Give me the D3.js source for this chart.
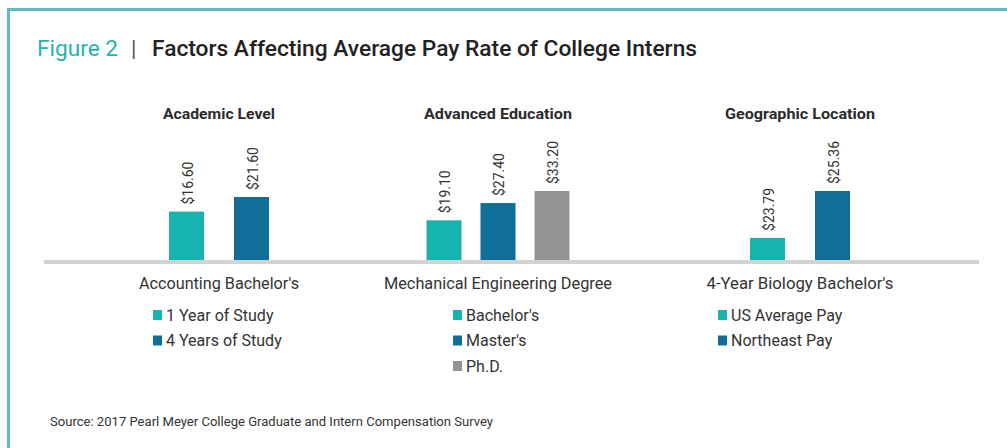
<!DOCTYPE html>
<html><head><meta charset="utf-8">
<script src="https://cdn.jsdelivr.net/npm/d3@7"></script>
<style>
html,body{margin:0;padding:0;background:#fff;}
svg{display:block;font-family:Roboto,"Open Sans",sans-serif;}
</style></head>
<body>
<svg id="c" width="1007" height="448"></svg>
<script>
// ---- data ----
const panelTitles = ["Academic Level", "Advanced Education", "Geographic Location"];
const panelCategories = ["Accounting Bachelor's", "Mechanical Engineering Degree", "4-Year Biology Bachelor's"];
const academicLabels = ["1 Year of Study", "4 Years of Study"];
const academicValues = [16.60, 21.60];
const educationLabels = ["Bachelor's", "Master's", "Ph.D."];
const educationValues = [19.10, 27.40, 33.20];
const locationLabels = ["US Average Pay", "Northeast Pay"];
const locationValues = [23.79, 25.36];
// each panel uses its own value axis (domain)
const panelDomains = [[0, 23.66], [0, 33.2], [23.05, 25.36]];

const colors = ["#17b3ae", "#106f98", "#939393"];

const svg = d3.select("#c");
svg.append("rect").attr("width", 1007).attr("height", 448).attr("fill", "#fff");
// frame
svg.append("rect").attr("x", 7).attr("y", 8).attr("width", 1000).attr("height", 3).attr("fill", "#62baba");
svg.append("rect").attr("x", 7).attr("y", 8).attr("width", 3).attr("height", 440).attr("fill", "#62baba");

function fit(sel, w) {
  sel.attr("textLength", w).attr("lengthAdjust", "spacingAndGlyphs");
}

// title
svg.append("text").attr("x", 37).attr("y", 56).attr("font-size", 22).attr("fill", "#27b3ae")
  .text("Figure 2").call(fit, 81);
svg.append("text").attr("x", 131).attr("y", 56).attr("font-size", 22).attr("fill", "#555").text("|");
svg.append("text").attr("x", 152).attr("y", 56).attr("font-size", 22).attr("font-weight", 500).attr("fill", "#222")
  .text("Factors Affecting Average Pay Rate of College Interns").call(fit, 545);

const baseline = 260, topY = 191;
const panels = [
  {labels: academicLabels, values: academicValues, center: 219, span: 65, tw: 112, cw: 160},
  {labels: educationLabels, values: educationValues, center: 498, span: 108, tw: 148, cw: 228},
  {labels: locationLabels, values: locationValues, center: 800, span: 65, tw: 150, cw: 187}
];
const legendX = [153, 453, 718];

// baseline
svg.append("rect").attr("x", 44).attr("y", baseline).attr("width", 935).attr("height", 4).attr("fill", "#d2d2d2");

const barW = 35;
panels.forEach((p, i) => {
  const g = svg.append("g");
  const x = d3.scalePoint().domain(p.labels).range([p.center - p.span / 2, p.center + p.span / 2]);
  const y = d3.scaleLinear().domain(panelDomains[i]).range([baseline, topY]);

  g.append("text").attr("x", p.center).attr("y", 119).attr("text-anchor", "middle")
    .attr("font-size", 15.5).attr("font-weight", 700).attr("fill", "#2b2b2b")
    .text(panelTitles[i]).call(fit, p.tw);

  g.selectAll("rect.bar").data(p.values).join("rect").attr("class", "bar")
    .attr("x", (d, j) => x(p.labels[j]) - barW / 2)
    .attr("y", d => y(d))
    .attr("width", barW)
    .attr("height", d => baseline - y(d))
    .attr("fill", (d, j) => colors[j]);

  g.selectAll("text.val").data(p.values).join("text").attr("class", "val")
    .attr("transform", (d, j) => `translate(${x(p.labels[j]) + 1},${y(d) - 7}) rotate(-90)`)
    .attr("dominant-baseline", "central")
    .attr("font-size", 15.5).attr("fill", "#333")
    .text(d => "$" + d3.format(".2f")(d)).call(fit, 43);

  g.append("text").attr("x", p.center).attr("y", 289).attr("text-anchor", "middle")
    .attr("font-size", 16).attr("fill", "#333").text(panelCategories[i]).call(fit, p.cw);

  const lg = g.selectAll("g.lg").data(p.labels).join("g").attr("class", "lg")
    .attr("transform", (d, j) => `translate(${legendX[i]},${315 + j * 25.5})`);
  lg.append("rect").attr("x", 0).attr("y", -5).attr("width", 9).attr("height", 10)
    .attr("fill", (d, j) => colors[j]);
  lg.append("text").attr("x", 13).attr("y", 0).attr("dominant-baseline", "central")
    .attr("font-size", 16).attr("fill", "#333").text(d => d);
});

svg.append("text").attr("x", 50).attr("y", 426).attr("font-size", 12.5).attr("fill", "#333")
  .text("Source: 2017 Pearl Meyer College Graduate and Intern Compensation Survey").call(fit, 443);
</script>
</body></html>
